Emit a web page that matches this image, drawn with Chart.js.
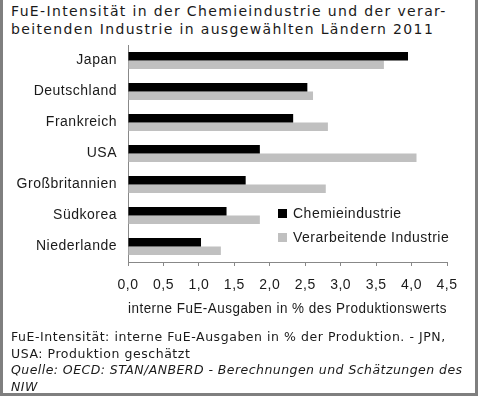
<!DOCTYPE html>
<html>
<head>
<meta charset="utf-8">
<script src="https://cdn.jsdelivr.net/npm/chart.js@4"></script>
<style>
body{margin:0;background:#fff;}
#frame{position:absolute;left:0;top:0;width:478px;height:396px;box-sizing:border-box;border-left:3px solid #7f7f7f;border-right:3px solid #7f7f7f;border-bottom:3px solid #7f7f7f;pointer-events:none;}
#title{position:absolute;left:11px;top:3px;font-family:"DejaVu Sans";font-size:14px;line-height:17.5px;letter-spacing:1.35px;color:#1a1a1a;white-space:nowrap;}
#chartBox{position:absolute;left:0;top:40px;width:478px;height:290px;}
#note{position:absolute;left:11px;top:329px;font-family:"DejaVu Sans";font-size:12.5px;line-height:16.5px;letter-spacing:0.55px;color:#1a1a1a;white-space:nowrap;}
#note i{font-style:italic;letter-spacing:0.45px;}
</style>
</head>
<body>
<div id="title">FuE-Intensität in der Chemieindustrie und der verar-<br>beitenden Industrie in ausgewählten Ländern 2011</div>
<div id="chartBox"><canvas id="chart"></canvas></div>
<div id="note">FuE-Intensität: interne FuE-Ausgaben in % der Produktion. - JPN,<br>USA: Produktion geschätzt<br><i>Quelle: OECD: STAN/ANBERD - Berechnungen und Schätzungen des<br>NIW</i></div>
<div id="frame"></div>
<script>
const countries = ["Japan", "Deutschland", "Frankreich", "USA", "Großbritannien", "Südkorea", "Niederlande"];
const chemie = [3.95, 2.53, 2.33, 1.86, 1.66, 1.39, 1.03];
const verarbeitend = [3.61, 2.61, 2.82, 4.07, 2.79, 1.86, 1.31];
const seriesNames = ["Chemieindustrie", "Verarbeitende Industrie"];
const xMin = 0, xMax = 4.5, xStep = 0.5;
const xTitle = "interne FuE-Ausgaben in % des Produktionswerts";

const txtFont = {family: '"Liberation Sans", Arial, sans-serif', size: 14};

// a bit of letter spacing, the original text is rather wide
const spacing = {
    id: 'spacing',
    beforeUpdate(chart){ chart.ctx.letterSpacing = '0.5px'; },
    beforeDraw(chart){ chart.ctx.letterSpacing = '0.5px'; }
};

// legend sits inside the plot, lower right
const legendInside = {
    id: 'legendInside',
    afterDraw(chart){
        const ctx = chart.ctx;
        const a = chart.chartArea;
        let x = a.left + 150, y = a.bottom - 53;
        ctx.save();
        ctx.font = '14px "Liberation Sans", Arial, sans-serif';
        ctx.letterSpacing = '0.5px';
        ctx.textBaseline = 'middle';
        chart.data.datasets.forEach((ds, i) => {
            ctx.fillStyle = ds.backgroundColor;
            ctx.fillRect(x, y + i * 24, 9, 9);
            ctx.fillStyle = '#1a1a1a';
            ctx.fillText(ds.label, x + 15, y + i * 24 + 5);
        });
        ctx.restore();
    }
};

let ctx = document.getElementById("chart").getContext("2d");
new Chart(ctx, {
    type: "bar",
    data: {
        labels: countries,
        datasets: [
            {label: seriesNames[0], data: chemie, backgroundColor: "#000000", barPercentage: 1, categoryPercentage: 0.55},
            {label: seriesNames[1], data: verarbeitend, backgroundColor: "#c0c0c0", barPercentage: 1, categoryPercentage: 0.55}
        ]
    },
    options: {
        indexAxis: 'y',
        responsive: true,
        maintainAspectRatio: false,
        animation: false,
        layout: {padding: {top: 5, right: 31, left: 0, bottom: 0}},
        plugins: {legend: {display: false}, tooltip: {enabled: false}},
        scales: {
            x: {
                min: xMin, max: xMax,
                afterFit: s => { s.height = 68; s.paddingLeft = 0; s.paddingRight = 0; },
                ticks: {
                    stepSize: xStep,
                    color: '#1a1a1a',
                    font: txtFont,
                    padding: 11,
                    maxRotation: 0,
                    callback: v => v.toFixed(1).replace('.', ',')
                },
                grid: {drawOnChartArea: false, tickLength: 4, color: '#888'},
                border: {color: '#888'},
                title: {display: true, text: xTitle, color: '#1a1a1a', font: txtFont, padding: {top: 0, bottom: 12}}
            },
            y: {
                afterFit: s => { s.width = 128; s.paddingTop = 0; s.paddingBottom = 0; },
                ticks: {color: '#1a1a1a', font: txtFont, padding: 11},
                grid: {drawOnChartArea: false, drawTicks: false},
                border: {color: '#888'}
            }
        }
    },
    plugins: [spacing, legendInside]
});
</script>
</body>
</html>
